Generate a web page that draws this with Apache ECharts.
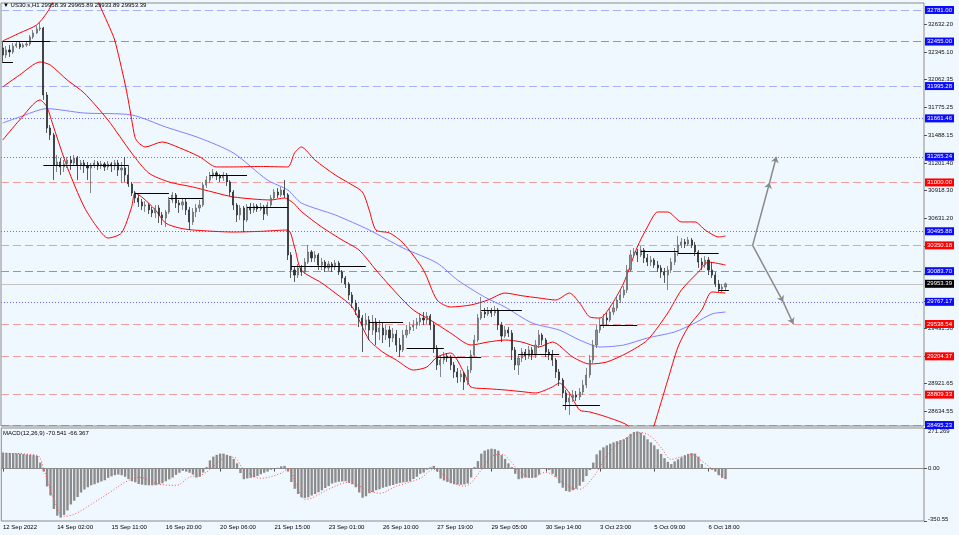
<!DOCTYPE html>
<html><head><meta charset="utf-8">
<script src="https://cdn.jsdelivr.net/npm/echarts@6/dist/echarts.min.js"></script>
<style>html,body{margin:0;padding:0;background:#F0F8FF;}#c{width:959px;height:535px;}</style>
</head><body><div id="c"></div><script>
// ---------- DATA ----------
const symbolName = 'US30.s,H1';
const headerOHLC = [29958.39, 29965.89, 29933.89, 29953.39];
const xTickIndex = [0,16,32,48,64,80,96,112,128,144,160,176,192,208];
const xTickLabels = ['12 Sep 2022','14 Sep 02:00','15 Sep 11:00','16 Sep 20:00','20 Sep 06:00','21 Sep 15:00','23 Sep 01:00','26 Sep 10:00','27 Sep 19:00','29 Sep 05:00','30 Sep 14:00','3 Oct 23:00','5 Oct 09:00','6 Oct 18:00'];
const priceTicks = [32632.20,32345.10,32062.35,31775.25,31488.15,31201.40,30918.30,30631.20,30344.10,30057.00,29769.90,29491.50,29204.40,28921.65,28634.55];
const macdTicks = [271.269, 0, -350.55];
const macdTickLabels = ['271.269','0.00','-350.55'];
// [open, close, low, high]
const candles = [
[32389,32316,32234,32451],[32316,32368,32285,32409],[32368,32347,32296,32420],[32347,32409,32327,32440],[32409,32430,32389,32451],
[32430,32399,32378,32451],[32399,32420,32389,32440],[32420,32430,32399,32451],[32430,32502,32409,32523],[32502,32543,32482,32574],
[32543,32585,32533,32616],[32585,32595,32564,32657],[32595,31903,31852,32605],[31903,31562,31511,31934],[31562,31490,31438,31593],
[31490,31180,31025,31511],[31180,31211,31108,31284],[31211,31160,31077,31253],[31160,31191,31108,31232],[31191,31232,31149,31263],
[31232,31201,31129,31273],[31201,31253,31170,31284],[31253,31180,31025,31273],[31180,31201,31129,31232],[31201,31170,31098,31232],
[31170,31149,31025,31211],[31149,31180,30891,31201],[31180,31201,31149,31232],[31201,31170,31129,31222],[31170,31191,31139,31222],
[31191,31160,31118,31211],[31160,31191,31129,31222],[31191,31170,31108,31211],[31170,31201,31129,31232],[31201,31129,31067,31232],
[31129,31149,30994,31211],[31149,31077,31005,31263],[31077,30984,30953,31180],[30984,30891,30860,31005],[30891,30839,30788,30912],
[30839,30798,30747,30871],[30798,30757,30716,30829],[30757,30767,30695,30808],[30767,30716,30674,30788],[30716,30685,30643,30747],
[30685,30736,30633,30767],[30736,30664,30581,30767],[30664,30633,30561,30695],[30633,30695,30540,30716],[30695,30819,30674,30850],
[30819,30871,30788,30901],[30871,30788,30736,30891],[30788,30767,30685,30819],[30767,30798,30716,30839],[30798,30716,30664,30829],
[30716,30592,30509,30747],[30592,30695,30561,30736],[30695,30736,30643,30777],[30736,30767,30695,30819],[30767,30974,30747,31005],
[30974,31025,30943,31067],[31025,31067,30994,31108],[31067,31098,31046,31139],[31098,31067,31025,31118],[31067,31046,31005,31087],
[31046,31077,31015,31108],[31077,31005,30963,31098],[31005,30901,30860,31025],[30901,30767,30716,30922],[30767,30664,30592,30788],
[30664,30736,30612,30767],[30736,30612,30488,30757],[30612,30747,30592,30777],[30747,30716,30674,30788],[30716,30757,30685,30788],
[30757,30726,30695,30777],[30726,30747,30705,30788],[30747,30674,30612,30767],[30674,30767,30654,30798],[30767,30839,30747,30871],
[30839,30901,30819,30932],[30901,30871,30839,30943],[30871,30922,30850,30953],[30922,30871,30839,31025],[30871,30251,30199,30891],
[30251,30096,30013,30282],[30096,30044,29972,30137],[30044,30117,30013,30158],[30117,30075,30034,30147],[30075,30178,30055,30220],
[30178,30282,30158,30354],[30282,30220,30178,30302],[30220,30251,30178,30292],[30251,30147,30096,30271],[30147,30178,30096,30220],
[30178,30117,30075,30199],[30117,30158,30086,30189],[30158,30127,30075,30178],[30127,30168,30096,30199],[30168,30075,30044,30189],
[30075,30013,29962,30096],[30013,29951,29910,30034],[29951,29838,29786,29972],[29838,29755,29704,29869],[29755,29683,29631,29786],
[29683,29600,29507,29714],[29600,29528,29249,29631],[29528,29580,29476,29652],[29580,29476,29373,29621],[29476,29559,29425,29631],
[29559,29456,29321,29600],[29456,29497,29373,29580],[29497,29425,29342,29559],[29425,29476,29373,29528],[29476,29394,29301,29518],
[29394,29435,29352,29497],[29435,29321,29249,29476],[29321,29270,29197,29394],[29270,29425,29249,29476],[29425,29476,29394,29528],
[29476,29507,29435,29559],[29507,29528,29466,29580],[29528,29559,29487,29600],[29559,29600,29518,29652],[29600,29580,29528,29662],
[29580,29621,29538,29662],[29621,29528,29476,29642],[29528,29290,29239,29559],[29290,29115,29063,29321],[29115,29166,28991,29218],
[29166,29208,29125,29249],[29208,29187,29146,29239],[29187,29115,29063,29218],[29115,29043,28981,29146],[29043,28991,28929,29084],
[28991,29022,28939,29063],[29022,28939,28857,29043],[28939,29063,28908,29105],[29063,29218,29032,29270],[29218,29373,29197,29425],
[29373,29600,29352,29642],[29600,29662,29580,29817],[29662,29642,29600,29704],[29642,29673,29621,29714],[29673,29652,29611,29704],
[29652,29683,29621,29724],[29683,29528,29476,29704],[29528,29414,29352,29559],[29414,29476,29394,29518],[29476,29445,29404,29507],
[29445,29270,29166,29476],[29270,29115,29063,29301],[29115,29187,29012,29228],[29187,29249,29146,29290],[29249,29208,29166,29280],
[29208,29270,29177,29311],[29270,29218,29166,29301],[29218,29321,29187,29373],[29321,29425,29290,29476],[29425,29373,29321,29445],
[29373,29249,29197,29394],[29249,29218,29166,29280],[29218,29166,29105,29270],[29166,29043,28981,29187],[29043,28960,28898,29074],
[28960,28826,28774,28981],[28826,28733,28650,28857],[28733,28774,28599,28836],[28774,28805,28733,28857],[28805,28784,28743,28846],
[28784,28836,28753,28877],[28836,28908,28805,28960],[28908,29012,28877,29084],[29012,29166,28981,29218],[29166,29321,29135,29373],
[29321,29476,29290,29528],[29476,29528,29445,29600],[29528,29600,29497,29642],[29600,29580,29528,29652],[29580,29662,29559,29704],
[29662,29704,29631,29755],[29704,29786,29673,29827],[29786,29838,29755,29889],[29838,29889,29807,29931],[29889,30096,29858,30147],
[30096,30251,30075,30302],[30251,30282,30220,30323],[30282,30251,30178,30313],[30251,30302,30230,30344],[30302,30220,30168,30323],
[30220,30178,30137,30261],[30178,30199,30137,30240],[30199,30147,30117,30220],[30147,30117,30075,30189],[30117,30075,30013,30147],
[30075,30044,29962,30117],[30044,30096,29889,30137],[30096,30178,30065,30220],[30178,30271,30147,30323],[30271,30354,30240,30447],
[30354,30385,30323,30426],[30385,30364,30323,30416],[30364,30406,30344,30437],[30406,30354,30323,30426],[30354,30282,30240,30385],
[30282,30178,30117,30302],[30178,30147,30096,30220],[30147,30199,30117,30240],[30199,30096,30044,30230],[30096,30044,30013,30178],
[30044,29951,29920,30075],[29951,29900,29869,29993],[29900,29920,29869,29951],[29920,29953.39,29889,29965.89]
];
// Bollinger bands and moving average: [bar index, price]
const bbUpper = [[0,32461],[5,32543],[10,32626],[13,32750],[15,32884],[18,33250],[22,33450],[26,33150],[28,32884],[31,32640],[33,32471],[36,32027],[37,31850],[38,31650],[39,31465],[40,31410],[42,31366],[47,31418],[52,31359],[58,31266],[63,31160],[68,31160],[76,31165],[84,31160],[86,31304],[88,31366],[92,31232],[98,31077],[102,30994],[106,30901],[108,30716],[110,30509],[114,30478],[118,30375],[124,30096],[128,29786],[132,29714],[138,29735],[143,29786],[148,29858],[153,29830],[158,29807],[163,29786],[167,29858],[170,29755],[173,29611],[176,29600],[179,29714],[183,29962],[187,30333],[190,30540],[193,30695],[196,30695],[200,30592],[204,30592],[207,30509],[211,30437],[213,30447]];
const bbMiddle = [[0,31986],[5,32110],[11,32244],[14,32213],[19,32058],[24,31924],[31,31645],[38,31304],[43,31098],[49,31005],[56,30953],[62,30900],[68,30850],[79,30819],[83,30839],[86,30777],[88,30700],[94,30540],[100,30406],[105,30302],[110,30096],[116,29858],[121,29683],[126,29580],[132,29445],[138,29321],[143,29352],[148,29373],[153,29352],[158,29301],[162,29352],[168,29197],[173,29125],[178,29146],[184,29239],[190,29373],[196,29652],[200,29889],[205,30075],[208,30178],[213,30147]];
const bbLower = [[0,31438],[5,31645],[11,31852],[13,31780],[15,31573],[19,31160],[24,30747],[28,30530],[31,30426],[35,30478],[38,30747],[39,30891],[41,30850],[45,30716],[48,30581],[52,30530],[56,30509],[68,30488],[76,30495],[84,30509],[86,30333],[88,30096],[94,29962],[98,29858],[103,29714],[108,29373],[112,29249],[116,29166],[121,29063],[125,29094],[128,29197],[132,29239],[136,29032],[138,28888],[143,28870],[148,28857],[153,28840],[157,28826],[162,28888],[164,28929],[167,28826],[170,28650],[173,28630],[178,28578],[184,28495],[186,28400],[189,28330],[191,28400],[192,28495],[196,28960],[199,29301],[202,29507],[206,29683],[209,29869],[213,29858]];
const maLine = [[0,31614],[5,31676],[13,31762],[24,31717],[38,31697],[48,31573],[58,31459],[68,31304],[78,31025],[84,30922],[88,30788],[98,30664],[108,30509],[118,30323],[128,30168],[134,29993],[142,29817],[148,29714],[156,29549],[164,29476],[170,29373],[176,29301],[183,29321],[190,29394],[198,29456],[204,29549],[209,29642],[213,29662]];
// horizontal levels: [price, kind]
const levels = [[32781.00,'blueDashLight'],[32455.00,'blueDash'],[31995.28,'blueDashLight'],[31661.46,'blueDot'],[31265.24,'blueDot'],[31000.00,'redDash'],[30495.88,'blueDot'],[30350.18,'redDash'],[30083.70,'blueDash'],[29953.39,'price'],[29767.17,'blueDot'],[29538.54,'redDash'],[29204.37,'redDash'],[28809.33,'redDash'],[28495.23,'blueDash']];
// daily open segments: [start bar, end bar, price]
const dailySegs = [[0,3,32244],[0,14,32458],[12,37,31180],[39,49,30891],[49,59,30839],[61,72,31077],[72,84,30747],[85,107,30137],[108,118,29559],[119,130,29290],[128,141,29197],[141,153,29683],[152,164,29228],[165,176,28702],[176,187,29528],[188,199,30292],[199,211,30271],[211,214,29889]];
// projection arrows: [from bar, from price, to bar, to price]
const arrowSegs = [[221,30350.18,226,31000],[226,31000,228,31265.24],[221,30350.18,230,29767.17],[230,29767.17,233,29538.54]];
const macdHist = [
107,105,104,103,102,100,97,95,92,90,
86,40,-20,-120,-180,-270,-315,-328,-310,-280,
-240,-215,-190,-160,-140,-125,-112,-105,-95,-86,
-78,-62,-52,-44,-40,-45,-55,-70,-85,-92,
-103,-108,-111,-112,-112,-111,-105,-98,-85,-72,
-60,-42,-28,-15,-20,-28,-40,-60,-55,-27,
10,55,80,92,100,100,92,85,65,35,
-30,-71,-66,-62,-58,-50,-38,-28,-20,-8,
-3,5,15,18,-20,-90,-135,-170,-192,-196,
-192,-180,-170,-158,-145,-130,-117,-100,-93,-88,
-86,-85,-95,-105,-125,-160,-195,-185,-165,-158,
-145,-138,-128,-122,-115,-110,-102,-96,-92,-89,
-85,-70,-55,-35,-27,-8,8,18,-20,-67,
-80,-90,-98,-105,-107,-108,-106,-100,-60,10,
50,100,120,128,133,130,120,90,65,35,
10,-35,-71,-65,-60,-62,-61,-60,-40,0,
-4,-10,-35,-55,-98,-128,-150,-155,-145,-135,
-115,-88,-50,-10,40,95,122,142,155,166,
175,183,190,196,210,232,245,248,240,222,
196,175,155,129,98,70,45,30,48,62,
75,88,98,103,100,80,30,5,0,-8,
-20,-45,-62,-70.541];
const macdSignal = [[0,102],[10,89],[12,-5],[15,-205],[18,-319],[21,-305],[26,-239],[32,-152],[36,-91],[40,-58],[46,-105],[51,-112],[55,-58],[59,-38],[62,15],[66,76],[68,76],[71,-5],[76,-65],[82,-31],[84,0],[87,-138],[89,-205],[91,-198],[96,-138],[102,-92],[107,-138],[111,-165],[116,-118],[123,-65],[127,-5],[132,-85],[136,-118],[141,-10],[144,80],[147,95],[150,40],[152,-18],[156,-58],[160,-25],[163,-58],[167,-125],[170,-138],[173,-85],[176,10],[178,89],[181,160],[185,220],[188,240],[191,215],[194,140],[197,62],[200,80],[203,95],[206,50],[209,0],[211,-30],[213,-66.367]];

// ---------- CHART ----------
const N = 272;
const cats = Array.from({length: N}, (_, i) => String(i));
const tickMap = {};
xTickIndex.forEach((k, j) => { tickMap[k] = xTickLabels[j]; });
const FONT = '"Liberation Sans", Arial, sans-serif';
const levelStyle = {
  blueDashLight: {line: '#a8b0f6', type: [8, 4], box: '#0a0aff'},
  blueDash: {line: '#8c8cf0', type: [8, 4], box: '#0a0aff'},
  blueDot: {line: '#6b6bff', type: [1, 2], box: '#0a0aff'},
  redDash: {line: '#f29c9c', type: [8, 4], box: '#ff0000'},
  price: {line: '#c4c4c4', type: 'solid', box: '#000000'}
};
const lineSeries = (data, color, extra) => Object.assign({
  type: 'line', xAxisIndex: 0, yAxisIndex: 0, data: data, showSymbol: false, symbol: 'none',
  smooth: 0.25, lineStyle: {color: color, width: 1}, silent: true, z: 3
}, extra || {});

const chart = echarts.init(document.getElementById('c'));
chart.setOption({
  backgroundColor: '#F0F8FF',
  animation: false,
  textStyle: {fontFamily: FONT},
  grid: [
    {left: 1, right: 35, top: 3, height: 423, show: true, borderColor: '#8c8c8c', borderWidth: 1, backgroundColor: 'transparent'},
    {left: 1, right: 35, top: 428, height: 93, show: true, borderColor: '#8c8c8c', borderWidth: 1, backgroundColor: 'transparent'}
  ],
  xAxis: [
    {type: 'category', gridIndex: 0, data: cats, boundaryGap: true, axisLine: {show: false}, axisTick: {show: false}, axisLabel: {show: false}, splitLine: {show: false}},
    {type: 'category', gridIndex: 1, data: cats, boundaryGap: true,
     axisLine: {show: true, lineStyle: {color: '#8c8c8c'}},
     axisTick: {show: true, interval: (i) => (i in tickMap), alignWithLabel: true, length: 3, lineStyle: {color: '#555'}},
     axisLabel: {interval: (i) => (i in tickMap), formatter: (v) => tickMap[v] || '', align: 'left', fontSize: 6, color: '#000', margin: 3, fontFamily: FONT},
     splitLine: {show: false}}
  ],
  yAxis: [
    {type: 'value', gridIndex: 0, position: 'right', min: 28485, max: 32853, scale: true,
     splitLine: {show: false}, axisLine: {show: false},
     axisTick: {show: true, customValues: priceTicks, length: 3, lineStyle: {color: '#555'}},
     axisLabel: {customValues: priceTicks, formatter: (v) => v.toFixed(2), fontSize: 6, color: '#111', margin: 4, fontFamily: FONT}},
    {type: 'value', gridIndex: 1, position: 'right', min: -350.55, max: 271.269,
     splitLine: {show: false}, axisLine: {show: false},
     axisTick: {show: true, customValues: macdTicks, length: 3, lineStyle: {color: '#555'}},
     axisLabel: {customValues: macdTicks, fontSize: 6, color: '#111', margin: 4, fontFamily: FONT,
       formatter: (v) => {
         let j = macdTicks.findIndex(t => Math.abs(t - v) < 1e-6);
         if (j < 0) return '';
         const s = macdTickLabels[j];
         return j === 0 ? '{t|' + s + '}' : (j === 2 ? '{b|' + s + '}' : s);
       },
       rich: {t: {padding: [6, 0, 0, 0], fontSize: 6, color: '#111'}, b: {padding: [0, 0, 4, 0], fontSize: 6, color: '#111'}}}}
  ],
  graphic: [
    {type: 'text', left: 3, top: 2, z: 100, style: {text: '\u25BC ' + symbolName + ' ' + headerOHLC.map(v => v.toFixed(2)).join(' '), font: '6px ' + FONT, fill: '#000'}},
    {type: 'text', left: 3, top: 430, z: 100, style: {text: 'MACD(12,26,9) ' + macdHist[macdHist.length - 1].toFixed(3) + ' ' + macdSignal[macdSignal.length - 1][1].toFixed(3), font: '6px ' + FONT, fill: '#000'}}
  ],
  series: [
    {type: 'candlestick', xAxisIndex: 0, yAxisIndex: 0, data: candles, barMaxWidth: 1.6, silent: true, z: 4,
     itemStyle: {color: '#8e8e8e', color0: '#2e2e2e', borderColor: '#6a6a6a', borderColor0: '#2e2e2e', borderWidth: 0.8},
     markLine: {silent: true, symbol: ['none', 'none'], animation: false, z: 1,
       data: levels.map(([v, k]) => {
         const s = levelStyle[k];
         return {yAxis: v,
           lineStyle: {color: s.line, type: s.type, width: 1},
           label: {show: true, position: 'end', distance: 1, formatter: v.toFixed(2), color: '#ffffff', backgroundColor: s.box,
                   fontSize: 6, lineHeight: 7, padding: [1, 2, 0, 2], fontFamily: FONT}};
       })}},
    lineSeries(maLine, '#8080ff'),
    lineSeries(bbUpper, '#ff0000'),
    lineSeries(bbMiddle, '#ff0000'),
    lineSeries(bbLower, '#ff0000'),
    {type: 'lines', coordinateSystem: 'cartesian2d', xAxisIndex: 0, yAxisIndex: 0, silent: true, z: 5,
     lineStyle: {color: '#000000', width: 1, opacity: 1},
     data: dailySegs.map(s => ({coords: [[s[0], s[2]], [s[1], s[2]]]}))},
    {type: 'lines', coordinateSystem: 'cartesian2d', xAxisIndex: 0, yAxisIndex: 0, silent: true, z: 5,
     symbol: ['none', 'arrow'], symbolSize: 6,
     lineStyle: {color: '#8a8a8a', width: 1.5, opacity: 1},
     data: arrowSegs.map(s => ({coords: [[s[0], s[1]], [s[2], s[3]]]}))},
    {type: 'bar', xAxisIndex: 1, yAxisIndex: 1, data: macdHist, barWidth: '70%', silent: true,
     itemStyle: {color: '#8c8c8c'}},
    {type: 'line', xAxisIndex: 1, yAxisIndex: 1, data: macdSignal, showSymbol: false, symbol: 'none', smooth: 0.35, silent: true, z: 4,
     lineStyle: {color: '#ff5050', width: 1, type: [1, 2]}}
  ]
});
</script></body></html>
